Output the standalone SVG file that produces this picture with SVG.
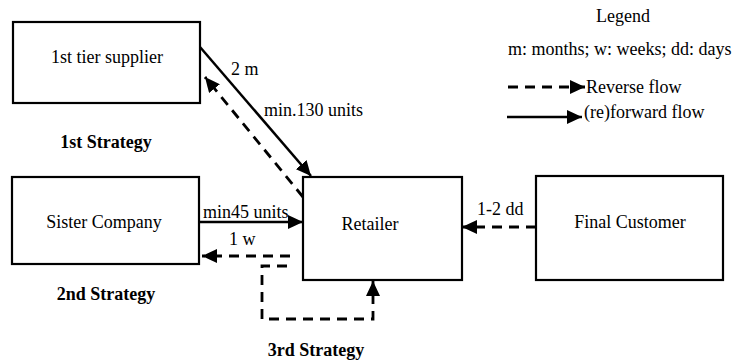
<svg xmlns="http://www.w3.org/2000/svg" width="741" height="364" viewBox="0 0 741 364">
<style>
.box{fill:#fff;stroke:#000;stroke-width:2.2}
.t{font-family:"Liberation Serif","Times New Roman",serif;font-size:18px;fill:#000}
.b{font-weight:bold}
.solid{fill:none;stroke:#000;stroke-width:2.5}
.dash{fill:none;stroke:#000;stroke-width:2.8;stroke-dasharray:10 7}
</style>
<defs>
<marker id="ah" markerUnits="userSpaceOnUse" markerWidth="16" markerHeight="14" refX="15" refY="7" orient="auto">
<path d="M0,0 L15,7 L0,14 z" fill="#000"/>
</marker>
</defs>
<rect width="741" height="364" fill="#fff"/>
<g id="supplier"><rect class="box" x="13" y="22" width="187" height="81"/><text class="t" x="107" y="63" text-anchor="middle">1st tier supplier</text></g>
<g id="sister"><rect class="box" x="12" y="177" width="187" height="87"/><text class="t" x="104" y="228" text-anchor="middle">Sister Company</text></g>
<g id="retailer"><rect class="box" x="303" y="177" width="159" height="103"/><text class="t" x="370" y="230" text-anchor="middle">Retailer</text></g>
<g id="customer"><rect class="box" x="536" y="176" width="187" height="104"/><text class="t" x="630" y="228" text-anchor="middle">Final Customer</text></g>
<g id="connectors">
<line class="solid" x1="200" y1="47" x2="311" y2="176" marker-end="url(#ah)"/>
<line class="dash" x1="303" y1="197" x2="205" y2="77" marker-end="url(#ah)"/>
<line class="solid" x1="199" y1="222" x2="303" y2="222" marker-end="url(#ah)"/>
<line class="dash" x1="290" y1="256" x2="202" y2="256" marker-end="url(#ah)"/>
<path class="dash" d="M287,266 L262,266 L262,319 L373,319 L373,281" marker-end="url(#ah)"/>
<line class="dash" x1="536" y1="227" x2="462" y2="227" marker-end="url(#ah)"/>
</g>
<g id="labels">
<text class="t" x="231" y="75">2 m</text>
<text class="t" x="264" y="116">min.130 units</text>
<text class="t b" x="106" y="148" text-anchor="middle">1st Strategy</text>
<text class="t" x="203" y="218">min45 units</text>
<text class="t" x="229" y="245">1 w</text>
<text class="t b" x="106" y="300" text-anchor="middle">2nd Strategy</text>
<text class="t b" x="316" y="356" text-anchor="middle">3rd Strategy</text>
<text class="t" x="477" y="215">1-2 dd</text>
</g>
<g id="legend">
<text class="t" x="623" y="22" text-anchor="middle">Legend</text>
<text class="t" x="508" y="55">m: months; w: weeks; dd: days</text>
<line class="dash" x1="508" y1="87" x2="585" y2="87" marker-end="url(#ah)"/>
<text class="t" x="586" y="93">Reverse flow</text>
<line class="solid" x1="507" y1="117" x2="582" y2="117" marker-end="url(#ah)"/>
<text class="t" x="584" y="118">(re)forward flow</text>
</g>
</svg>
